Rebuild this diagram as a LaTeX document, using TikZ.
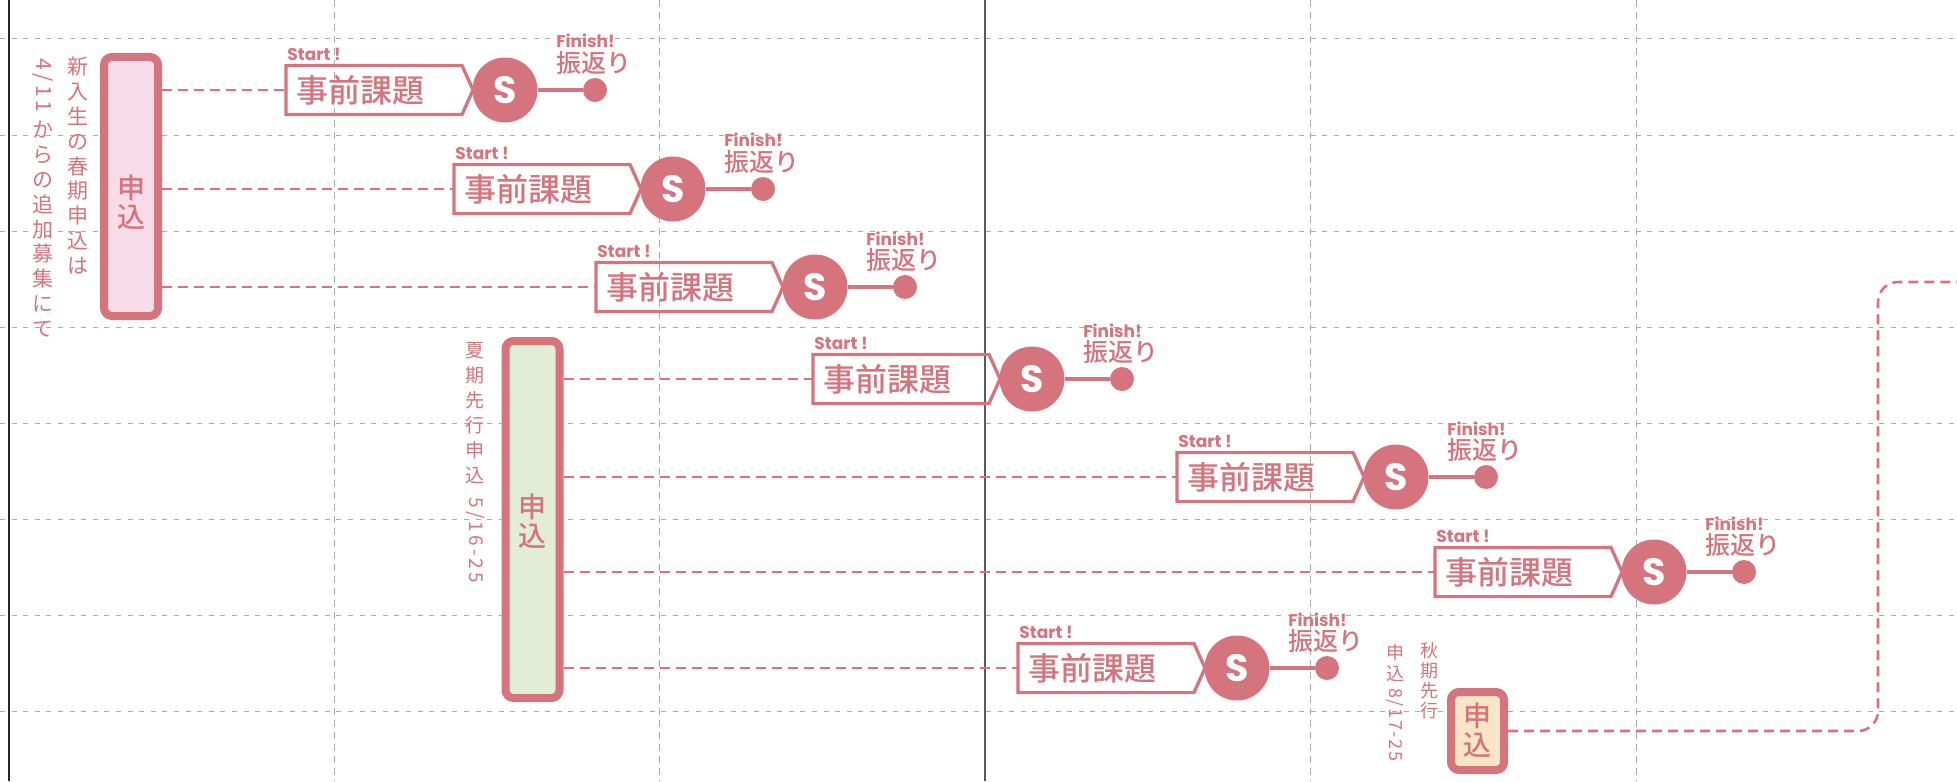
\documentclass[tikz,border=0pt]{standalone}
\usepackage{fontspec}
\setmainfont{Noto Sans CJK JP}
\IfFontExistsTF{Noto Sans CJK JP Medium}
  {\newfontfamily\chuji{Noto Sans CJK JP Medium}}
  {\newfontfamily\chuji{Noto Sans CJK JP}[FakeBold=1]}
\newfontfamily\popfont{Poppins}

\definecolor{bara}{HTML}{D5747C}
\definecolor{momo}{HTML}{F8DCE7}
\definecolor{wakaba}{HTML}{E1EDD5}
\definecolor{kinari}{HTML}{F7E6C6}
\definecolor{haiiro}{HTML}{ABABAB}
\definecolor{sumi}{HTML}{2B2525}
\definecolor{nezumi}{HTML}{5A5A5A}

\tikzset{
  gridh/.style={haiiro, line width=0.5pt, dash pattern=on 2.5pt off 3.3pt},
  gridv/.style={haiiro, line width=0.5pt, dash pattern=on 3.5pt off 2.5pt},
  moushikomi/.style={draw=bara, line width=4pt, rounded corners=4pt, minimum width=27pt, inner sep=0pt},
  hakomoji/.style={text=bara, align=center, inner sep=0pt, font=\chuji\fontsize{14}{14.5}\selectfont},
  tate/.style={text=bara, align=center, inner sep=0pt, anchor=north},
  yoko/.style={text=bara, inner sep=0pt, rotate=-90, anchor=west},
  renraku/.style={bara, line width=1.3pt, dash pattern=on 5pt off 3pt},
  kadai/.style={text=bara, text width=78pt, align=left, inner xsep=5pt, inner ysep=0pt,
    outer sep=0pt, minimum height=24.5pt, font=\chuji\fontsize{16}{16}\selectfont},
  kadaiwaku/.style={draw=bara, line width=1.65pt},
  maru/.style={circle, fill=bara, text=white, minimum size=32.5pt, inner sep=0pt,
    font=\popfont\bfseries\fontsize{19}{19}\selectfont},
  ten/.style={circle, fill=bara, minimum size=12pt, inner sep=0pt},
  sen/.style={bara, line width=1.65pt},
  eigo/.style={text=bara, inner sep=0pt, font=\popfont\bfseries\fontsize{8.5}{8.5}\selectfont},
  furikaeri/.style={text=bara, inner sep=0pt, font=\chuji\fontsize{12.5}{13}\selectfont}
}

\begin{document}
\begin{tikzpicture}[x=0.5pt,y=-0.5pt]
\useasboundingbox (0,0) rectangle (1957,781);

% grid
\foreach \y in {39,135,...,711}
  \draw[gridh] (0,\y) -- (1957,\y);
\foreach \x in {334,659.5,1310.5,1636}
  \draw[gridv] (\x,0) -- (\x,781);
\draw[line width=1pt, sumi] (8.5,0) -- (8.5,781);
\draw[line width=0.7pt, nezumi] (985,0) -- (985,781);

% 申込 boxes
\node[moushikomi, fill=momo, minimum height=129.5pt] (haru) at (131,186.5) {};
\node[moushikomi, fill=wakaba, minimum height=178.5pt] (natsu) at (532.5,519.5) {};
\node[moushikomi, fill=kinari, minimum height=39pt, minimum width=26.5pt] (aki) at (1477.5,731) {};
\node[hakomoji] (haruMoji) at (131,202) {申\\込};
\node[hakomoji] (natsuMoji) at (532.5,521) {申\\込};
\node[hakomoji] (akiMoji) at (1477.5,730) {申\\込};

% side notes
\node[tate, font=\fontsize{10.5}{12.4}\selectfont] (haruNote1) at (78,57)
  {新\\入\\生\\の\\春\\期\\申\\込\\は};
\node[yoko, font=\fontsize{10.5}{12.4}\selectfont] (haruHi) at (43,58) {4\,/\,1\,1};
\node[tate, font=\fontsize{10.5}{12.4}\selectfont] (haruNote2) at (43,121)
  {か\\ら\\の\\追\\加\\募\\集\\に\\て};
\node[tate, font=\fontsize{9.5}{12.5}\selectfont] (natsuNote) at (475,342)
  {夏\\期\\先\\行\\申\\込};
\node[yoko, font=\fontsize{9.5}{12.5}\selectfont] (natsuHi) at (475,497) {5\,/\,1\,6\,-\,2\,5};
\node[tate, font=\fontsize{9}{10}\selectfont] (akiNote1) at (1429,642)
  {秋\\期\\先\\行};
\node[tate, font=\fontsize{9}{10.5}\selectfont] (akiNote2) at (1395,644)
  {申\\込};
\node[yoko, font=\fontsize{9}{10}\selectfont] (akiHi) at (1395,688) {8\kern.8pt/\kern.8pt1\kern.8pt7\kern.8pt-\kern.8pt2\kern.8pt5};

% rows
\foreach \n/\bx/\by/\src in {1/286/90/haru,2/454/189/haru,3/596/287/haru,
    4/813/379/natsu,5/1177/477/natsu,6/1435/572/natsu,7/1018/668/natsu}{
  \node[kadai, anchor=west] (k\n) at (\bx,\by) {事前課題};
  \draw[kadaiwaku] (k\n.north west) -- (k\n.north east) -- ++(11,24.5)
    -- (k\n.south east) -- (k\n.south west) -- cycle;
  \draw[renraku] (\src.east |- k\n) -- (k\n);
  \node[maru] (s\n) at (\bx+219,\by) {S};
  \node[ten] (f\n) at (\bx+309,\by) {};
  \draw[sen] (s\n) -- (f\n);
  \node[eigo, anchor=base west] (st\n) at (\bx+1,\by-29.5) {Start !};
  \node[eigo, anchor=base west] (fi\n) at (\bx+270,\by-42) {Finish!};
  \node[furikaeri, anchor=base west] (fk\n) at (\bx+270,\by-17.5) {振返り};
}

% autumn connector
\coordinate (akiSaki) at (1957,282);
\draw[renraku, rounded corners=10pt] (aki) -- (1878,731) |- (akiSaki);
\end{tikzpicture}
\end{document}
